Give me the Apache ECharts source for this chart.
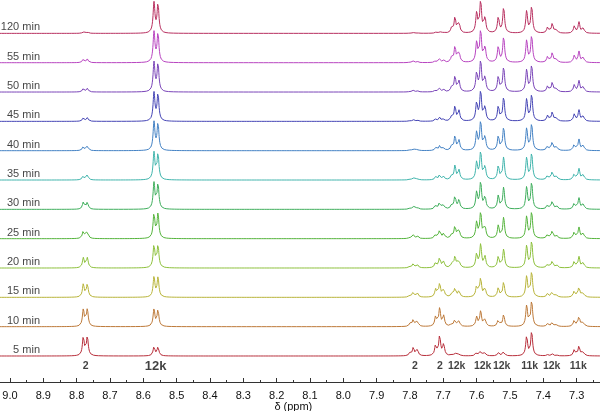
<!DOCTYPE html>
<html>
<head>
<meta charset="utf-8">
<script src="https://cdn.jsdelivr.net/npm/echarts@6/dist/echarts.min.js"></script>
<style>
html,body{margin:0;padding:0;background:#fff;}
#chart{width:600px;height:411px;}
</style>
</head>
<body>
<div id="chart"></div>
<script>
// Spectrum labels (bottom to top) and colours
const times = ['5 min','10 min','15 min','20 min','25 min','30 min','35 min','40 min','45 min','50 min','55 min','120 min'];
const colors = ['#b8303c','#bd7a3a','#b8b43a','#8dc03c','#55b43c','#3fae5c','#40b4ac','#4482c4','#4545b5','#7a45b8','#b845c0','#b83060'];

// Observed heights (px-scale intensity) of reference lines per spectrum
const amp2      = [19, 17, 13, 10, 8, 7, 5, 4.5, 3.5, 3.5, 3.5, 1.5];   // compound 2, 8.78 ppm line
const amp12k    = [9, 17, 20, 23, 25, 26, 27, 28, 28, 29, 30, 30];     // 12k, 8.56 ppm line
const amp12kAr  = [6, 15, 19, 23, 26, 27, 28, 29, 30, 31, 32, 32];     // 12k, 7.588 ppm line
const amp11k    = [0.9, 0.95, 0.95, 1, 1, 1, 1, 1, 1, 1, 1, 1];        // 11k relative level

// Peak lists (ppm, relative height)
const peaks2ppm = [8.780, 8.768, 7.800, 7.790, 7.778, 7.723, 7.711, 7.699];
const peaks2rel = [1.0, 1.0, 0.17, 0.44, 0.33, 0.6, 1.05, 0.6];
const peaks12kAlkPpm = [8.568, 8.556];
const peaks12kAlkRel = [1.0, 0.97];
const peaks12kArPpm = [7.675, 7.665, 7.653, 7.600, 7.588, 7.575, 7.535, 7.519, 7.387, 7.373, 7.360];
const peaks12kArRel = [0.16, 0.5, 0.34, 0.62, 1.0, 0.47, 0.5, 0.81, 0.19, 0.31, 0.12];
const peaks11kppm = [7.450, 7.435, 7.307, 7.293, 7.280];
const peaks11kht  = [22, 27, 7, 11, 5];

// Assignment labels under the bottom spectrum
const assignPpm  = [8.773, 8.563, 7.785, 7.710, 7.660, 7.582, 7.525, 7.441, 7.375, 7.295];
const assignText = ['2', '12k', '2', '2', '12k', '12k', '12k', '11k', '12k', '11k'];

const xMin = 7.2, xMax = 9.1, step = 0.0005;
const gamma = 0.0033;
const spacing = 29.33;

function spectrum(i) {
  const lines = [];
  peaks2ppm.forEach((p, k) => lines.push([p, amp2[i] * peaks2rel[k]]));
  peaks12kAlkPpm.forEach((p, k) => lines.push([p, amp12k[i] * peaks12kAlkRel[k]]));
  peaks12kArPpm.forEach((p, k) => lines.push([p, amp12kAr[i] * peaks12kArRel[k]]));
  peaks11kppm.forEach((p, k) => lines.push([p, amp11k[i] * peaks11kht[k]]));
  const base = i * spacing;
  const data = [];
  const n = Math.round((xMax - xMin) / step);
  for (let j = 0; j <= n; j++) {
    const x = xMax - j * step;
    let y = 0;
    for (const [p, h] of lines) {
      const d = (x - p) / gamma;
      y += h / (1 + d * d);
    }
    data.push([x, base + y]);
  }
  return data;
}

const series = times.map((t, i) => ({
  type: 'line',
  name: t,
  data: spectrum(i),
  showSymbol: false,
  symbol: 'none',
  sampling: 'none',
  lineStyle: { width: 1, color: colors[i] },
  itemStyle: { color: colors[i] },
  z: 2 + i,
  silent: true,
  animation: false
}));

series.push({
  type: 'scatter',
  symbolSize: 0,
  silent: true,
  animation: false,
  z: 20,
  data: times.map((t, i) => ({ name: t, value: [8.91, i * spacing] })),
  label: {
    show: true,
    position: 'left',
    distance: 0,
    offset: [0, -6],
    formatter: p => p.name,
    color: '#111',
    fontFamily: 'Liberation Sans, Arial, sans-serif',
    fontSize: 11
  }
});

series.push({
  type: 'scatter',
  symbolSize: 0,
  silent: true,
  animation: false,
  z: 20,
  data: assignText.map((t, k) => ({
    name: t,
    value: [assignPpm[k], -10],
    label: { fontSize: t === '12k' && assignPpm[k] > 8 ? 13 : 10.5 }
  })),
  label: {
    show: true,
    position: 'inside',
    formatter: p => p.name,
    color: '#111',
    fontWeight: 'bold',
    fontFamily: 'Liberation Sans, Arial, sans-serif',
    fontSize: 10.5
  }
});

const chart = echarts.init(document.getElementById('chart'), null, { renderer: 'canvas' });
chart.setOption({
  animation: false,
  backgroundColor: '#fff',
  grid: { left: -23.33, right: -10, top: 0, bottom: 29, containLabel: false, outerBoundsMode: 'none' },
  xAxis: {
    type: 'value',
    min: xMin,
    max: xMax,
    inverse: true,
    interval: 0.1,
    name: 'δ (ppm)',
    nameLocation: 'middle',
    nameGap: 19,
    nameMoveOverlap: false,
    nameTextStyle: { color: '#111', fontSize: 11, fontFamily: 'Liberation Sans, Arial, sans-serif' },
    axisLine: { show: true, onZero: false, lineStyle: { color: '#333', width: 1 } },
    axisTick: { show: true, inside: true, length: 4, lineStyle: { color: '#333' } },
    minorTick: { show: true, splitNumber: 2, length: 2, lineStyle: { color: '#333' } },
    axisLabel: {
      color: '#111', fontSize: 11, margin: 8,
      fontFamily: 'Liberation Sans, Arial, sans-serif',
      formatter: v => v.toFixed(1)
    },
    splitLine: { show: false }
  },
  yAxis: {
    type: 'value',
    min: -26,
    max: 356,
    show: false
  },
  series: series
});
</script>
</body>
</html>
